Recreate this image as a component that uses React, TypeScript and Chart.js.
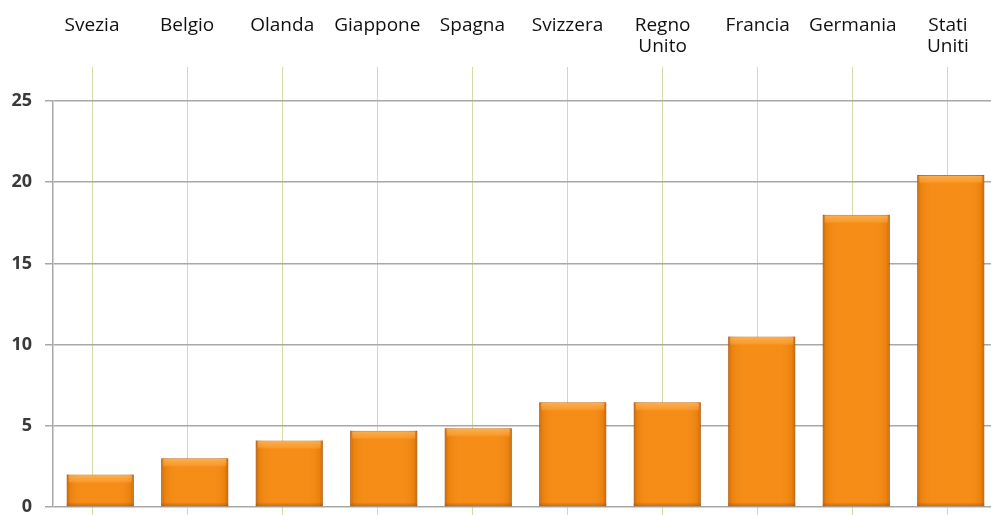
import React, { useEffect, useRef } from "react";
import { Chart, registerables } from "chart.js";

Chart.register(...registerables);

const categories: (string | string[])[] = [
  "Svezia",
  "Belgio",
  "Olanda",
  "Giappone",
  "Spagna",
  "Svizzera",
  ["Regno", "Unito"],
  "Francia",
  "Germania",
  ["Stati", "Uniti"],
];
const values = [2.0, 3.0, 4.1, 4.7, 4.85, 6.45, 6.45, 10.5, 18.0, 20.45];
const yMin = 0;
const yMax = 25;
const yStep = 5;

const BAR_COLOR = "#f5890e";
const GREEN = "#d2dbaa";
const GRAY = "#a8a8a8";
const FONT = "'Open Sans', 'Noto Sans', sans-serif";

const labelMarks = (scale: any) => {
  scale.ticks = categories.map((_, i) => ({ value: i }));
};

const barShade = {
  id: "barShade",
  afterDatasetsDraw(chart: any) {
    const c = chart.ctx;
    const meta = chart.getDatasetMeta(0);
    c.save();
    meta.data.forEach((el: any) => {
      const { x, y, base, width } = el.getProps(["x", "y", "base", "width"], true);
      const l = x - width / 2;
      const h = base - y;
      const g = c.createLinearGradient(l, 0, l + width, 0);
      g.addColorStop(0, "rgba(140,60,0,0.5)");
      g.addColorStop(0.05, "rgba(160,70,0,0.12)");
      g.addColorStop(0.25, "rgba(255,255,255,0.03)");
      g.addColorStop(0.75, "rgba(255,255,255,0.03)");
      g.addColorStop(0.95, "rgba(160,70,0,0.12)");
      g.addColorStop(1, "rgba(140,60,0,0.5)");
      c.fillStyle = g;
      c.fillRect(l, y, width, h);
      const hg = c.createLinearGradient(0, y, 0, y + 9);
      hg.addColorStop(0, "rgba(255,190,100,0.75)");
      hg.addColorStop(0.75, "rgba(255,175,80,0.45)");
      hg.addColorStop(1, "rgba(255,170,70,0)");
      c.fillStyle = hg;
      c.fillRect(l + 2, y + 1, width - 4, Math.min(9, h));
      const bg = c.createLinearGradient(0, base - 4, 0, base);
      bg.addColorStop(0, "rgba(140,60,0,0)");
      bg.addColorStop(1, "rgba(140,60,0,0.4)");
      c.fillStyle = bg;
      c.fillRect(l, base - 4, width, 4);
    });
    c.restore();
  },
};

export default function App() {
  const ref = useRef<HTMLCanvasElement>(null);

  useEffect(() => {
    if (!ref.current) return;
    const chart = new Chart(ref.current, {
      type: "bar",
      data: {
        labels: categories.map((c) => (Array.isArray(c) ? c.join(" ") : c)),
        datasets: [
          {
            data: values,
            backgroundColor: BAR_COLOR,
            borderColor: "#cc6c08",
            borderWidth: 1,
            barPercentage: 0.71,
            categoryPercentage: 1,
          },
        ],
      },
      options: {
        responsive: false,
        animation: false,
        devicePixelRatio: 1,
        layout: { padding: { top: 14, left: 10, right: 0, bottom: 18 } },
        plugins: { legend: { display: false }, tooltip: { enabled: false } },
        scales: {
          x: { type: "category", display: false, offset: true },
          x2: {
            type: "linear",
            position: "top",
            offset: false,
            min: -0.4105,
            max: 9.527,
            afterBuildTicks: labelMarks,
            afterFit: (s: any) => {
              s.height = 87;
            },
            ticks: {
              autoSkip: false,
              maxRotation: 0,
              minRotation: 0,
              crossAlign: "far",
              padding: 9,
              color: "#111",
              font: { family: FONT, size: 19, lineHeight: 1.15 },
              callback: (v: any) => categories[v as number] as any,
            },
            grid: { color: GREEN, lineWidth: 1, tickLength: 34, drawTicks: true, offset: false },
            border: { display: false },
            z: 1,
          },
          x3: {
            type: "linear",
            position: "bottom",
            offset: false,
            min: -0.4105,
            max: 9.527,
            afterBuildTicks: labelMarks,
            afterFit: (s: any) => {
              s.height = 10;
            },
            ticks: { display: false },
            grid: { color: GREEN, lineWidth: 1, tickLength: 10, drawOnChartArea: false, offset: false },
            border: { display: false },
          },
          y: {
            type: "linear",
            min: yMin,
            max: yMax,
            afterFit: (s: any) => {
              s.width = 43;
            },
            ticks: {
              stepSize: yStep,
              padding: 13,
              color: "#3a3a3a",
              font: { family: FONT, size: 18, weight: "bold" },
            },
            grid: { color: GRAY, lineWidth: 1.5, tickLength: 8 },
            border: { display: true, color: GRAY, width: 1.5 },
          },
        },
      },
      plugins: [barShade],
    });
    return () => chart.destroy();
  }, []);

  return (
    <div
      style={{
        position: "absolute",
        left: 0,
        top: 0,
        width: 991,
        height: 515,
        overflow: "hidden",
        background: "#fff",
      }}
    >
      <canvas ref={ref} width={998} height={535} style={{ display: "block" }} />
    </div>
  );
}
